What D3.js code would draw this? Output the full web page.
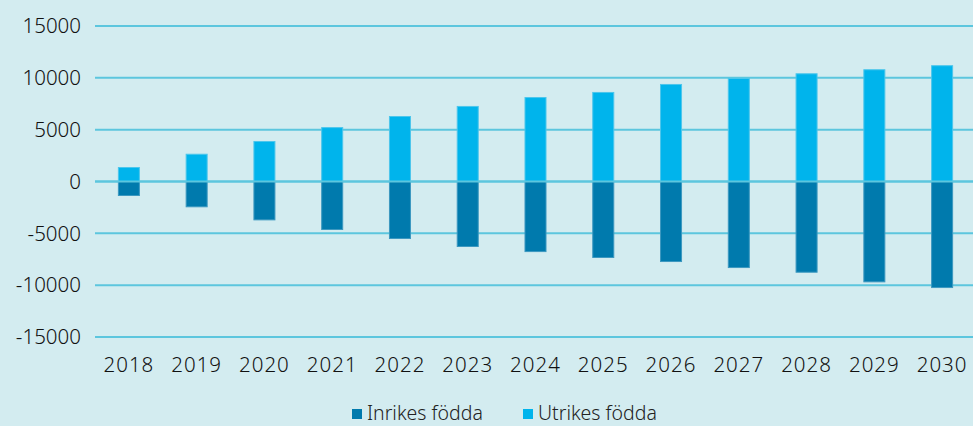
<!DOCTYPE html>
<html>
<head>
<meta charset="utf-8">
<script src="https://cdn.jsdelivr.net/npm/d3@7"></script>
<style>
  body { margin: 0; background: #d3ecf0; }
  #graf { width: 973px; height: 426px; }
  .ticks text { font-family: "Noto Sans", sans-serif; font-size: 20.5px; font-weight: 300; fill: #111; }
  .legend text { font-family: "Noto Sans", sans-serif; font-size: 19.5px; font-weight: 300; fill: #222; }
</style>
</head>
<body>
<div id="graf"></div>
<script>
const years = ["2018", "2019", "2020", "2021", "2022", "2023", "2024", "2025", "2026", "2027", "2028", "2029", "2030"]
const utrikes = [1350, 2630, 3860, 5200, 6270, 7240, 8100, 8590, 9360, 9940, 10390, 10780, 11170]
const inrikes = [-1350, -2440, -3700, -4630, -5500, -6270, -6760, -7330, -7720, -8300, -8750, -9680, -10230]
const yTicks = [15000, 10000, 5000, 0, -5000, -10000, -15000]
const seriesNames = ["Inrikes födda", "Utrikes födda"]
const colors = ["#007aad", "#00b4ec"]

const anchoTotal = 973
const altoTotal = 426

const svg = d3.select("#graf")
  .append("svg")
  .attr("width", anchoTotal)
  .attr("height", altoTotal)

svg.append("rect")
  .attr("width", anchoTotal)
  .attr("height", altoTotal)
  .attr("fill", "#d3ecf0")

const x = d3.scaleBand().domain(years).range([95, 976]).paddingInner(0.69).paddingOuter(0.345)
const y = d3.scaleLinear().domain([-15000, 15000]).range([337, 26])

// grid lines
svg.append("g")
  .selectAll("line")
  .data(yTicks)
  .join("line")
  .attr("x1", 95)
  .attr("x2", anchoTotal)
  .attr("y1", (d) => y(d))
  .attr("y2", (d) => y(d))
  .attr("stroke", "#5cc6de")
  .attr("stroke-width", 2)

// y tick labels
svg.append("g")
  .attr("class", "ticks")
  .selectAll("text")
  .data(yTicks)
  .join("text")
  .attr("x", 81)
  .attr("y", (d) => y(d))
  .attr("dy", "0.35em")
  .attr("text-anchor", "end")
  .text((d) => d)

// x labels
svg.append("g")
  .attr("class", "ticks")
  .selectAll("text")
  .data(years)
  .join("text")
  .attr("x", (d) => x(d) + x.bandwidth() / 2)
  .attr("y", 372)
  .attr("text-anchor", "middle")
  .attr("letter-spacing", 1)
  .text((d) => d)

// bars
const bars = svg.append("g")
bars.selectAll("rect.ut")
  .data(years)
  .join("rect")
  .attr("class", "ut")
  .attr("x", (d) => x(d))
  .attr("width", x.bandwidth())
  .attr("y", (d, i) => y(utrikes[i]))
  .attr("height", (d, i) => y(0) - y(utrikes[i]))
  .attr("fill", colors[1])
  .attr("stroke", "#4cc6ec")
  .attr("stroke-width", 1)

bars.selectAll("rect.in")
  .data(years)
  .join("rect")
  .attr("class", "in")
  .attr("x", (d) => x(d))
  .attr("width", x.bandwidth())
  .attr("y", y(0))
  .attr("height", (d, i) => y(inrikes[i]) - y(0))
  .attr("fill", colors[0])
  .attr("stroke", "#3c98c0")
  .attr("stroke-width", 1)

// zero line on top
svg.append("line")
  .attr("x1", 95)
  .attr("x2", anchoTotal)
  .attr("y1", y(0))
  .attr("y2", y(0))
  .attr("stroke", "#5cc6de")
  .attr("stroke-width", 2)

// legend
const legendX = [352, 523]
const legend = svg.append("g").attr("class", "legend")
seriesNames.forEach((name, i) => {
  legend.append("rect")
    .attr("x", legendX[i])
    .attr("y", 409)
    .attr("width", 10)
    .attr("height", 10)
    .attr("fill", colors[i])
  legend.append("text")
    .attr("x", legendX[i] + 15)
    .attr("y", 420)
    .text(name)
})
</script>
</body>
</html>
